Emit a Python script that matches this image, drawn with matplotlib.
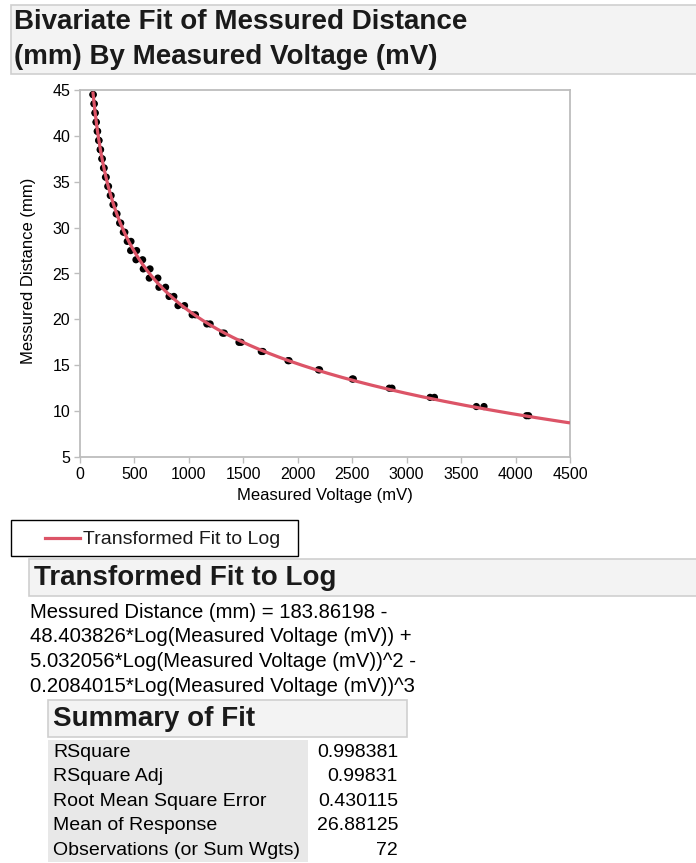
import numpy as np
import matplotlib
matplotlib.use('Agg')
import matplotlib.pyplot as plt
from matplotlib.patches import Rectangle
from matplotlib.lines import Line2D

plt.rcParams['font.family'] = ['Liberation Sans', 'DejaVu Sans']

# ---------------- data ----------------
distance_mm = [44.5, 43.5, 42.5, 41.5, 40.5, 39.5, 38.5, 37.5, 36.5, 35.5,
               34.5, 33.5, 32.5, 31.5, 30.5, 29.5, 28.5, 27.5, 26.5, 25.5,
               24.5, 23.5, 22.5, 21.5, 20.5, 19.5, 18.5, 17.5, 16.5, 15.5,
               14.5, 13.5, 12.5, 11.5, 10.5, 9.5]
voltage_read1 = [118, 128, 137, 147, 158, 171, 185, 200, 216, 234,
                 255, 278, 303, 332, 364, 398, 434, 465, 514, 581,
                 636, 725, 818, 900, 1030, 1165, 1310, 1460, 1665, 1910,
                 2190, 2500, 2840, 3215, 3640, 4100]
voltage_read2 = [122, 131, 140, 150, 162, 175, 189, 205, 222, 241,
                 262, 286, 312, 340, 374, 412, 468, 520, 575, 643,
                 715, 786, 862, 960, 1060, 1195, 1325, 1480, 1680, 1920,
                 2200, 2510, 2865, 3255, 3710, 4120]
fit_coefs = [183.86198, -48.403826, 5.032056, -0.2084015]

x_ticks = [0, 500, 1000, 1500, 2000, 2500, 3000, 3500, 4000, 4500]
y_ticks = [5, 10, 15, 20, 25, 30, 35, 40, 45]

title_lines = ["Bivariate Fit of Messured Distance",
               "(mm) By Measured Voltage (mV)"]
x_label = "Measured Voltage (mV)"
y_label = "Messured Distance (mm)"
legend_label = "Transformed Fit to Log"
fit_header = "Transformed Fit to Log"
equation_lines = ["Messured Distance (mm) = 183.86198 -",
                  "48.403826*Log(Measured Voltage (mV)) +",
                  "5.032056*Log(Measured Voltage (mV))^2 -",
                  "0.2084015*Log(Measured Voltage (mV))^3"]
summary_header = "Summary of Fit"
summary_labels = ["RSquare", "RSquare Adj", "Root Mean Square Error",
                  "Mean of Response", "Observations (or Sum Wgts)"]
summary_values = ["0.998381", "0.99831", "0.430115", "26.88125", "72"]

# ---------------- layout helpers ----------------
W, H = 696, 863
fig = plt.figure(figsize=(W / 100, H / 100), dpi=100)
fig.patch.set_facecolor('white')


def fx(px):
    return px / W


def fy(py):
    return 1 - py / H


def box(x0, y0, x1, y1, fc, ec, lw=1.0):
    fig.add_artist(Rectangle((fx(x0), fy(y1)), fx(x1) - fx(x0), fy(y0) - fy(y1),
                             transform=fig.transFigure, facecolor=fc,
                             edgecolor=ec, linewidth=lw, zorder=0))


HEAD_FC = '#f3f3f3'
HEAD_EC = '#cfcfcf'
TXT = '#1a1a1a'

# ---------------- title header ----------------
box(11, 5, 710, 74, HEAD_FC, HEAD_EC, 1.2)
fig.text(fx(14), fy(22), title_lines[0], fontsize=20, weight='bold',
         va='center', ha='left', color=TXT)
fig.text(fx(14), fy(57), title_lines[1], fontsize=20, weight='bold',
         va='center', ha='left', color=TXT)

# ---------------- plot ----------------
ax_l, ax_r, ax_t, ax_b = 80, 570, 90, 457
ax = fig.add_axes([fx(ax_l), fy(ax_b), fx(ax_r) - fx(ax_l), (ax_b - ax_t) / H])
ax.set_xlim(0, 4500)
ax.set_ylim(5, 45)
for s in ax.spines.values():
    s.set_color('#bdbdbd')
    s.set_linewidth(1.3)
ax.set_xticks(x_ticks)
ax.set_yticks(y_ticks)
ax.tick_params(direction='out', length=4.5, width=1, color='#bdbdbd',
               labelsize=11.5, pad=2.5, labelcolor='black')

volts = np.array(voltage_read1 + voltage_read2, dtype=float)
dists = np.array(distance_mm + distance_mm, dtype=float)
ax.scatter(volts, dists, s=27, c='black', edgecolors='none', zorder=3)

v_curve = np.linspace(min(volts), 4500, 500)
L = np.log(v_curve)
d_curve = fit_coefs[0] + fit_coefs[1] * L + fit_coefs[2] * L ** 2 + fit_coefs[3] * L ** 3
ax.plot(v_curve, d_curve, color='#dc5467', lw=2.3, zorder=4,
        solid_capstyle='butt')

fig.text(fx(325), fy(495), x_label, fontsize=12, ha='center', va='center',
         color='black')
fig.text(fx(29), fy(271), y_label, fontsize=12, ha='center', va='center',
         rotation=90, color='black')

# ---------------- legend ----------------
box(11, 520, 298, 556, 'white', 'black', 1.0)
fig.add_artist(Line2D([fx(45), fx(80)], [fy(538), fy(538)],
                      transform=fig.transFigure, color='#dc5467', lw=2.3))
fig.text(fx(83), fy(539), legend_label, fontsize=14, ha='left', va='center',
         color=TXT)

# ---------------- fit header + equation ----------------
box(29, 559, 710, 596, HEAD_FC, HEAD_EC, 1.2)
fig.text(fx(34), fy(578), fit_header, fontsize=20, weight='bold',
         ha='left', va='center', color=TXT)
for i, line in enumerate(equation_lines):
    fig.text(fx(30), fy(612 + i * 24.7), line, fontsize=14.6, ha='left',
             va='center', color='black')

# ---------------- summary of fit ----------------
box(48, 700, 407, 737, HEAD_FC, HEAD_EC, 1.2)
fig.text(fx(53), fy(719), summary_header, fontsize=20, weight='bold',
         ha='left', va='center', color=TXT)
box(48, 740, 308, 862, '#e8e8e8', 'none', 0)
for i, (lab, val) in enumerate(zip(summary_labels, summary_values)):
    yy = 752 + i * 24.6
    fig.text(fx(53), fy(yy), lab, fontsize=14, ha='left', va='center',
             color='black')
    fig.text(fx(398), fy(yy), val, fontsize=14, ha='right', va='center',
             color='black')

fig.savefig('out.png', dpi=100, facecolor='white')
